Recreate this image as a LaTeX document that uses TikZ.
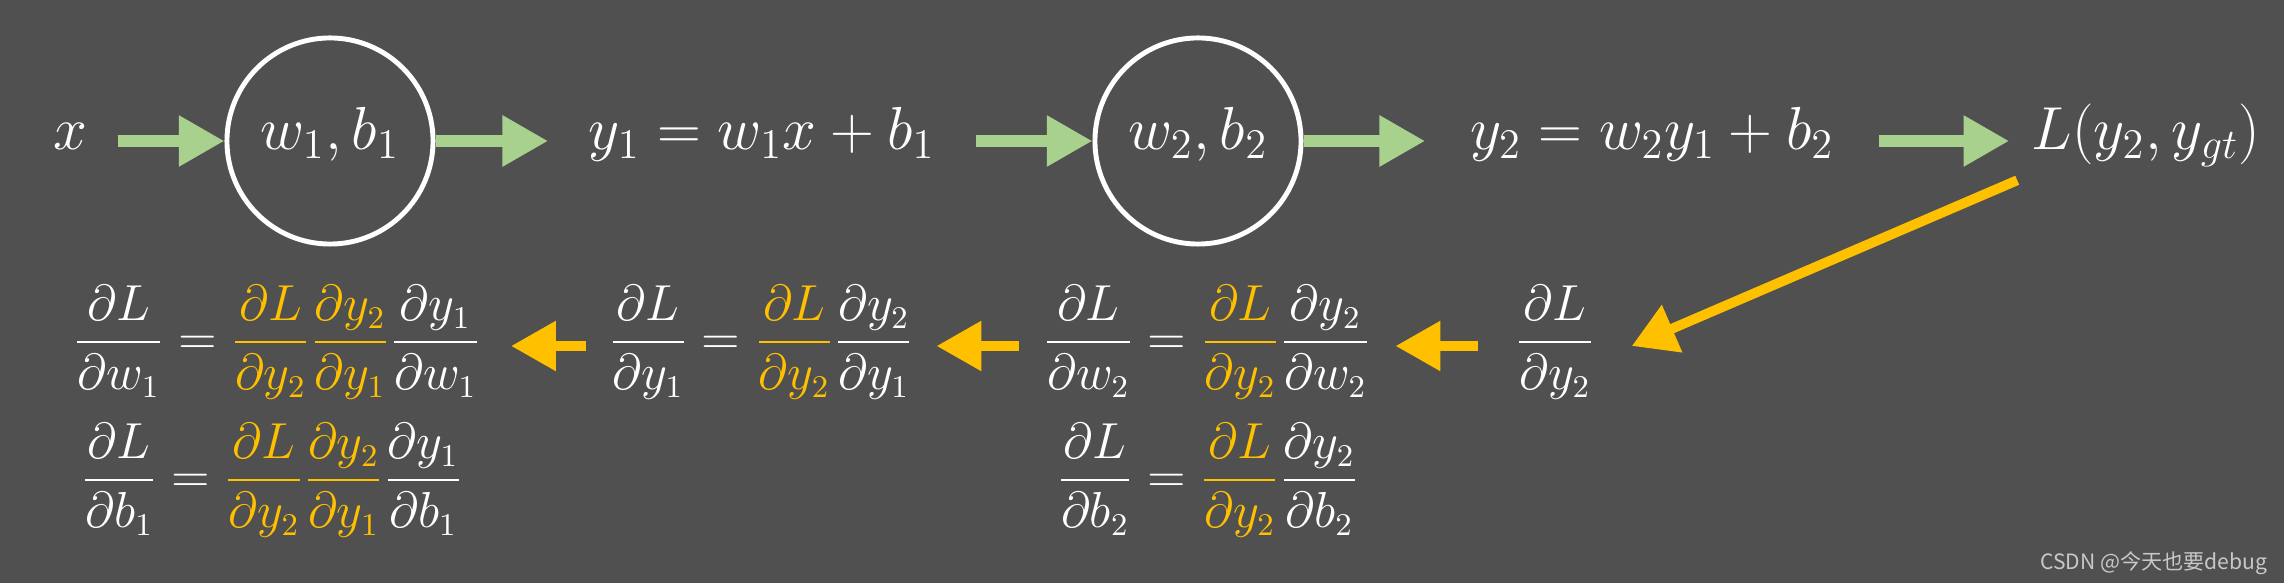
\documentclass[tikz,border=0pt]{standalone}
\usepackage{amsmath,amssymb}
\usepackage{fontspec}
\newfontfamily\cjk{Noto Sans CJK SC}
\usepackage{tikz}
\usetikzlibrary{arrows.meta}
\definecolor{slidebg}{RGB}{80,80,80}
\definecolor{flowgreen}{RGB}{169,209,142}
\definecolor{gradorange}{RGB}{255,192,0}
\definecolor{markgray}{RGB}{200,200,200}
\newcommand{\og}[1]{{\color{gradorange}#1}}
\tikzset{
  basic/.style    = {text=white, inner sep=0pt},
  top-math/.style = {basic, font=\fontsize{18}{22}\selectfont, text height=0.75em, text depth=0.25em},
  grad-math/.style = {basic, font=\fontsize{13.5}{16}\selectfont, text height=1.45em, text depth=0.95em},
  weight/.style   = {top-math, circle, draw=white, line width=1.4pt, minimum size=2.06cm},
  forward/.style  = {draw=flowgreen, line width=3.4pt, -{Triangle[length=13pt,width=13.7pt]}},
  backward/.style = {draw=gradorange, line width=3.1pt, -{Triangle[length=12.8pt,width=13.4pt]}},
  backward-thin/.style = {draw=gradorange, line width=2.8pt, -{Triangle[length=12.5pt,width=14pt]}}
}
\begin{document}
\begin{tikzpicture}[x=0.01cm, y=-0.01cm]
    \fill[slidebg] (0,0) rectangle (2284,583);

    \node [top-math, minimum width=0.94cm] (x) at (70,141) {$x$};
    \node [weight] (c1) at (330,141) {$w_1,b_1$};
    \node [top-math, minimum width=4.26cm] (y1) at (762,141) {$y_1 = w_1x + b_1$};
    \node [weight] (c2) at (1198,141) {$w_2,b_2$};
    \node [top-math, minimum width=4.52cm] (y2) at (1652,141) {$y_2 = w_2y_1 + b_2$};
    \node [top-math, minimum width=2.72cm] (L) at (2146,141) {$L(y_2,y_{gt})$};

    \draw [forward] (x) -- (c1);
    \draw [forward] (c1) -- (y1);
    \draw [forward] (y1) -- (c2);
    \draw [forward] (c2) -- (y2);
    \draw [forward] (y2) -- (L);

    \node [grad-math, minimum width=1.52cm] (dLdy2) at (1555,346)
        {$\dfrac{\partial L}{\partial y_2}$};
    \node [grad-math, minimum width=3.75cm] (dLdw2) at (1207,346)
        {$\dfrac{\partial L}{\partial w_2} = \og{\dfrac{\partial L}{\partial y_2}}\dfrac{\partial y_2}{\partial w_2}$};
    \node [grad-math] (dLdb2) at (1208,484)
        {$\dfrac{\partial L}{\partial b_2} = \og{\dfrac{\partial L}{\partial y_2}}\dfrac{\partial y_2}{\partial b_2}$};
    \node [grad-math, minimum width=3.49cm] (dLdy1) at (761,346)
        {$\dfrac{\partial L}{\partial y_1} = \og{\dfrac{\partial L}{\partial y_2}}\dfrac{\partial y_2}{\partial y_1}$};
    \node [grad-math, minimum width=4.66cm] (dLdw1) at (277,346)
        {$\dfrac{\partial L}{\partial w_1} = \og{\dfrac{\partial L}{\partial y_2}}\og{\dfrac{\partial y_2}{\partial y_1}}\dfrac{\partial y_1}{\partial w_1}$};
    \node [grad-math] (dLdb1) at (272,484)
        {$\dfrac{\partial L}{\partial b_1} = \og{\dfrac{\partial L}{\partial y_2}}\og{\dfrac{\partial y_2}{\partial y_1}}\dfrac{\partial y_1}{\partial b_1}$};

    \draw [backward-thin] ([shift={(8,21)}]L.south west) -- (dLdy2.east);
    \draw [backward] (dLdy2) -- (dLdw2);
    \draw [backward] (dLdw2) -- (dLdy1);
    \draw [backward] (dLdy1) -- (dLdw1);

    \node [anchor=east, text=markgray, inner sep=0pt, font=\cjk\fontsize{6}{7}\selectfont] (mark) at (2268,563) {CSDN @今天也要debug};
\end{tikzpicture}
\end{document}
